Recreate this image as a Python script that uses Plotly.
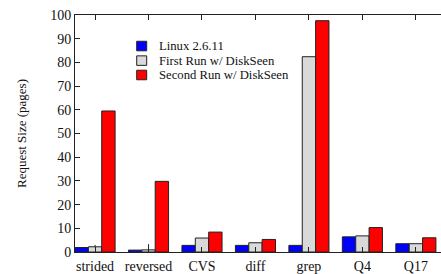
import plotly.graph_objects as go

categories = ["strided", "reversed", "CVS", "diff", "grep", "Q4", "Q17"]
series_names = ["Linux 2.6.11", "First Run w/ DiskSeen", "Second Run w/ DiskSeen"]
series_colors = ["#0000FF", "#D9D9D9", "#FF0000"]
linux = [1.9, 0.8, 2.8, 2.8, 2.8, 6.4, 3.5]
first_run = [2.2, 0.9, 5.9, 3.9, 82.4, 6.8, 3.5]
first_err = [0.8, 2.4, 0, 0, 0, 0, 0]
second_run = [59.5, 29.8, 8.4, 5.3, 97.6, 10.3, 6.0]
yticks = [0, 10, 20, 30, 40, 50, 60, 70, 80, 90, 100]

font = "Liberation Serif, Times New Roman, DejaVu Serif, serif"
line = dict(color="#222222", width=1)

W, H = 441, 274
ML, MR, MT, MB = 75, 0, 15, 20
pw, ph = W - ML - MR, H - MT - MB


def px_x(x):
    return (x - ML) / pw


def px_y(y):
    return (H - MB - y) / ph


fig = go.Figure()
fig.add_bar(x=categories, y=linux, name=series_names[0],
            marker=dict(color=series_colors[0], line=line))
fig.add_bar(x=categories, y=first_run, name=series_names[1],
            marker=dict(color=series_colors[1], line=line),
            error_y=dict(type="data", array=first_err, symmetric=False,
                         arrayminus=[0] * 7, width=0, thickness=1, color="#222222"))
fig.add_bar(x=categories, y=second_run, name=series_names[2],
            marker=dict(color=series_colors[2], line=line))

# manual legend (real text)
shapes = []
annotations = []
row_y = [46.3, 61.0, 75.5]
for name, col, ry in zip(series_names, series_colors, row_y):
    shapes.append(dict(type="rect", xref="paper", yref="paper",
                       x0=px_x(136.7), x1=px_x(146.7),
                       y0=px_y(ry + 4.8), y1=px_y(ry - 4.8),
                       fillcolor=col, line=dict(color="#222222", width=1)))
    annotations.append(dict(text=name, xref="paper", yref="paper",
                            x=px_x(157.0), y=px_y(ry), xanchor="left",
                            yanchor="middle", showarrow=False,
                            font=dict(family=font, size=12.7, color="#111111")))

fig.update_layout(
    width=W, height=H,
    margin=dict(l=ML, r=MR, t=MT, b=MB),
    paper_bgcolor="white", plot_bgcolor="white",
    barmode="group", bargap=0.25, bargroupgap=0,
    font=dict(family=font, color="#111111", size=14),
    showlegend=False,
    shapes=shapes, annotations=annotations,
)
fig.update_xaxes(range=[-0.375, 6.47], showline=True, linecolor="#222222",
                 linewidth=1, mirror="ticks", ticks="inside", ticklen=5,
                 tickcolor="#222222", showgrid=False,
                 ticklabelstandoff=1,
                 tickfont=dict(family=font, size=14))
fig.update_yaxes(range=[0, 100], tickvals=yticks, showline=True,
                 linecolor="#222222", linewidth=1, ticks="inside", ticklen=5,
                 tickcolor="#222222", showgrid=False, zeroline=False,
                 tickfont=dict(family=font, size=14),
                 title=dict(text="Request Size (pages)",
                            font=dict(family=font, size=13), standoff=20))

fig.write_html("out.html", config={"displayModeBar": False},
               post_script="document.body.style.margin='0px';document.body.style.overflow='hidden';")
